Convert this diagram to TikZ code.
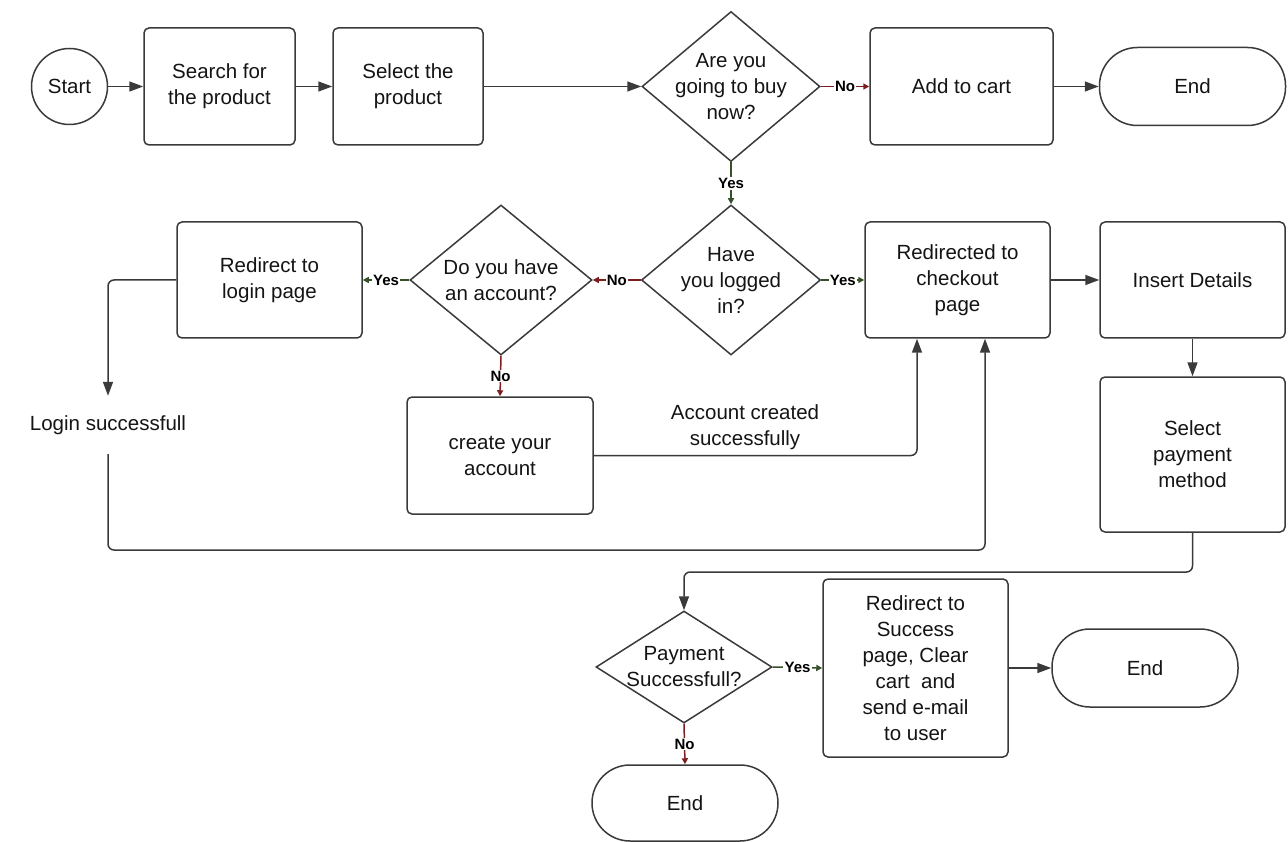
\documentclass[tikz,border=0pt]{standalone}
\usepackage{fontspec}
\setmainfont{Liberation Sans}
\usetikzlibrary{shapes.geometric,arrows.meta,calc}
\newcommand\txtfont{\fontsize{20.5}{26}\selectfont}
\newcommand\labfont{\bfseries\fontsize{15}{15}\selectfont}
\definecolor{linec}{RGB}{58,58,58}
\definecolor{txtc}{RGB}{20,20,20}
\definecolor{nored}{RGB}{125,30,30}
\definecolor{yesgr}{RGB}{55,80,40}
\begin{document}
\begin{tikzpicture}[x=1pt,y=-1pt,
  box/.style={draw=linec, line width=1.5pt, rounded corners=5pt, align=center,
    font=\txtfont, text=txtc, inner sep=0pt, fill=white},
  term/.style={draw=linec, line width=1.5pt, rounded corners=38pt, align=center,
    font=\txtfont, text=txtc, inner sep=0pt, minimum width=186pt, minimum height=78pt},
  dia/.style={draw=linec, line width=1.5pt, shape=diamond, inner sep=0pt},
  dtext/.style={align=center, font=\txtfont, text=txtc, inner sep=0pt},
  conn/.style={draw=linec, line width=1.5pt, rounded corners=6pt,
    -{Triangle[length=14pt,width=10pt]}},
  noc/.style={draw=nored, line width=1.5pt, -{Triangle[length=6pt,width=6pt]}},
  yesc/.style={draw=yesgr, line width=1.5pt, -{Triangle[length=6pt,width=6pt]}},
  lab/.style={font=\labfont, fill=white, inner sep=1.2pt, text=black},
  freetext/.style={align=center, font=\txtfont, text=txtc, inner sep=0pt}
]
\useasboundingbox (0,0) rectangle (1288,842);

% top row
\node[draw=linec, line width=1.5pt, circle, minimum size=76pt, inner sep=0pt,
  font=\txtfont, text=txtc] (start) at (69.5,86.5) {Start};
\node[box, minimum width=151pt, minimum height=117pt] (search) at (219.5,86.5) {Search for\\the product};
\node[box, minimum width=150pt, minimum height=117pt] (select) at (408,86.5) {Select the\\product};
\node[dia, minimum width=178pt, minimum height=150pt,
  label={[dtext]center:Are you\\going to buy\\now?}] (d1) at (731,86.5) {};
\node[box, minimum width=183pt, minimum height=117pt] (add) at (961.5,86.5) {Add to cart};
\node[term] (end1) at (1192.5,86.5) {End};

% middle row
\node[dia, minimum width=179pt, minimum height=150pt,
  label={[dtext]center:Have\\you logged\\in?}] (d2) at (731,280) {};
\node[dia, minimum width=182pt, minimum height=150pt,
  label={[dtext]center:Do you have\\an account?}] (d3) at (501,280) {};
\node[box, minimum width=185pt, minimum height=116pt] (redir) at (269.5,280) {Redirect to\\login page};
\node[box, minimum width=185pt, minimum height=116pt] (checkout) at (957.5,280) {Redirected to\\checkout\\page};
\node[box, minimum width=185pt, minimum height=116pt] (insert) at (1192.5,280) {Insert Details};
\node[box, minimum width=185pt, minimum height=155pt] (pay) at (1192.5,454.5) {Select\\payment\\method};
\node[box, minimum width=186pt, minimum height=117pt] (create) at (500,455.5) {create your\\account};
\node[freetext, minimum height=58pt] (login) at (108,425) {Login successfull};
\node[freetext] (acc) at (745,427) {Account created\\successfully};

% bottom row
\node[dia, minimum width=176pt, minimum height=112pt,
  label={[dtext]center:Payment\\Successfull?}] (d4) at (684,667) {};
\node[box, minimum width=185pt, minimum height=178pt] (success) at (915.5,668)
  {Redirect to\\Success\\page, Clear\\cart\ \ and\\send e-mail\\to user};
\node[term] (end2) at (1145,668) {End};
\node[term, minimum height=76pt] (end3) at (685,803) {End};

% coordinates for bends
\coordinate (loopc) at (985,550);
\coordinate (accc) at (917,455.5);
\coordinate (payc) at (940,572);

% connectors
\draw[conn] (start) -- (search);
\draw[conn] (search) -- (select);
\draw[conn] (select) -- (d1.west);
\draw[noc] (d1.east) -- node[lab]{No} (add.west);
\draw[conn] (add) -- (end1);
\draw[yesc] (d1.south) -- node[lab]{Yes} (d2.north);
\draw[noc] (d2.west) -- node[lab]{No} (d3.east);
\draw[yesc] (d2.east) -- node[lab]{Yes} (checkout.west);
\draw[yesc] (d3.west) -- node[lab]{Yes} (redir.east);
\draw[noc] (d3.south) -- node[lab]{No} (create.north);
\draw[conn] (redir.west) -| (login.north);
\draw[conn] (login.south) |- (loopc) -- (loopc |- checkout.south);
\draw[conn] (create.east) -- (accc) -- (accc |- checkout.south);
\draw[conn] (checkout) -- (insert);
\draw[conn] (insert) -- (pay);
\draw[conn] (pay.south) |- (payc) -| (d4.north);
\draw[yesc] (d4.east) -- node[lab]{Yes} (success.west);
\draw[noc] (d4.south) -- node[lab]{No} (end3.north);
\draw[conn] (success.east |- end2.west) -- (end2.west);
\end{tikzpicture}
\end{document}
